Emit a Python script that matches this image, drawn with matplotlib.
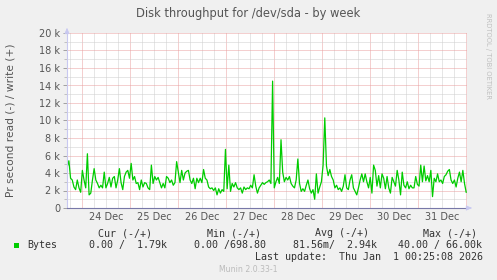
import numpy as np
import matplotlib
matplotlib.use("Agg")
import matplotlib.pyplot as plt
from matplotlib.patches import Rectangle

# ---------------- data ----------------
title = "Disk throughput for /dev/sda - by week"
ylabel = "Pr second read (-) / write (+)"
day_labels = ["24 Dec", "25 Dec", "26 Dec", "27 Dec", "28 Dec", "29 Dec", "30 Dec", "31 Dec"]
y_ticks = [0, 2000, 4000, 6000, 8000, 10000, 12000, 14000, 16000, 18000, 20000]
y_tick_labels = ["0", "2 k", "4 k", "6 k", "8 k", "10 k", "12 k", "14 k", "16 k", "18 k", "20 k"]

# write bytes/s (in thousands), Dec 23 ~16:30 -> Jan 1 00:25
write_k = [
    4.7, 5.4, 3.4, 3.2, 2.4, 2.1, 3.2, 2.3, 1.8, 4.3, 3.2, 2.3, 6.2, 1.5, 1.7, 3.2, 4.5, 3.2,
    2.8, 2.3, 2.6, 2.3, 4.1, 2.3, 2.8, 3.5, 2.4, 3.4, 3.6, 2.3, 3.2, 4.5, 2.9, 2.1, 3.6, 4.1,
    4.3, 3.4, 5.1, 3.2, 3.6, 2.8, 2.9, 2.1, 3.2, 2.4, 2.9, 2.8, 2.3, 2.1, 4.9, 2.8, 3.6, 3.2,
    3.5, 2.9, 2.3, 2.8, 2.3, 3.6, 3.4, 2.9, 3.2, 2.6, 2.9, 5.3, 4.1, 2.9, 4.3, 3.2, 4.0, 4.2,
    4.3, 3.2, 2.8, 3.4, 2.2, 3.4, 2.9, 3.4, 2.9, 4.4, 3.4, 3.2, 2.4, 2.2, 2.3, 2.0, 2.3, 1.5,
    2.2, 1.7, 2.1, 1.9, 6.7, 2.2, 4.9, 1.9, 2.8, 2.4,
    2.9, 2.3, 2.1, 2.3, 1.7, 2.4, 2.1, 2.3, 2.2, 2.6, 2.3, 3.8, 2.5, 1.7, 2.3, 2.6, 2.9, 2.7,
    2.9, 3.0, 3.2, 2.8, 14.5, 2.3, 3.0, 3.5, 2.8, 7.8, 4.1, 3.0, 3.5, 3.2, 3.6, 2.8, 2.5, 2.3,
    3.2, 5.6, 2.8, 1.9, 2.2, 1.9, 2.6, 3.2, 2.2, 1.7, 2.1, 1.0, 3.9, 1.7, 2.4, 3.0, 4.9, 10.3,
    4.8, 3.7, 4.4, 3.6, 3.2, 2.3, 2.6, 2.1, 2.3, 1.9, 2.5, 3.8, 2.3, 2.1, 3.2, 3.8, 2.3, 1.9,
    1.5, 2.3, 3.2, 3.9, 3.0, 3.9, 3.0, 2.3, 3.5, 1.7, 4.9, 4.3, 2.5, 3.7, 2.3, 3.9, 3.4, 2.2,
    3.6, 2.3, 1.7, 3.5, 3.0, 2.5, 4.3, 3.2, 1.5, 4.1, 2.6, 2.3, 3.0, 2.2, 2.6, 2.3, 2.3, 3.6,
    2.7, 2.5, 4.9, 3.0, 4.8, 3.1, 3.7, 3.0, 4.3, 1.3, 3.4, 3.0, 3.9, 3.0, 3.2, 2.8, 3.6, 3.8,
    4.2, 4.4, 3.2, 2.8, 3.2, 2.4, 3.4, 4.1, 3.0, 4.3, 2.8, 1.8,
]
t_start_h = -7.5      # hours relative to Dec 24 00:00
t_end_h = 192.0
view_start_h = -7.6
view_end_h = 192.4

legend_headers = ["Cur (-/+)", "Min (-/+)", "Avg (-/+)", "Max (-/+)"]
legend_values = ["0.00 /  1.79k", "0.00 /698.80", "81.56m/  2.94k", "40.00 / 66.00k"]
series_name = "Bytes"
last_update = "Last update:  Thu Jan  1 00:25:08 2026"
footer = "Munin 2.0.33-1"
side_text = "RRDTOOL / TOBI OETIKER"

# ---------------- figure ----------------
W, H = 497, 280
fig = plt.figure(figsize=(W / 100, H / 100), dpi=100, facecolor="#F0F0F0")
ax = fig.add_axes([67 / W, (H - 208) / H, 400 / W, 175 / H])
ax.set_facecolor("white")

def ftext(x, y, s, **kw):
    fig.text(x / W, 1 - y / H, s, **kw)

values = np.array(write_k) * 1000.0
times = np.linspace(t_start_h, t_end_h, len(values))

ax.set_xlim(view_start_h, view_end_h)
ax.set_ylim(0, 20000)

# grids
major_x = np.arange(0, 193, 24)
minor_x = np.arange(-6, 193, 6)
ax.set_xticks(major_x)
ax.set_xticks(minor_x, minor=True)
ax.set_xticklabels([])
ax.set_yticks(y_ticks)
ax.set_yticklabels(y_tick_labels)
ax.set_yticks(np.arange(1000, 20000, 2000), minor=True)

dot = (0, (1, 1))
ax.grid(which="minor", axis="both", color="#cfcfcf", linestyle=dot, linewidth=0.72)
ax.grid(which="major", axis="both", color="#eaa0a0", linestyle=dot, linewidth=0.72)
ax.set_axisbelow(True)

ax.tick_params(axis="x", which="both", length=0)
ax.tick_params(axis="y", which="major", length=3, width=0.7, color="#a0a0a0",
               labelsize=7, labelcolor="#555555", pad=2)
ax.tick_params(axis="y", which="minor", length=2, width=0.7, color="#c0c0c0")

for s in ["top", "right"]:
    ax.spines[s].set_visible(False)
ax.spines["left"].set_color("#c8c8f0")
ax.spines["left"].set_linewidth(0.8)
ax.spines["bottom"].set_color("#7878a8")
ax.spines["bottom"].set_linewidth(0.8)

# data line
ax.plot(times, values, color="#00CC00", linewidth=0.9, solid_joinstyle="round")

# axis arrows (small triangles)
ax.annotate("", xy=(1.013, 0), xytext=(1.0, 0), xycoords="axes fraction",
            arrowprops=dict(arrowstyle="-|>,head_length=0.35,head_width=0.15",
                            color="#c8c8f0", lw=0.6), annotation_clip=False)
ax.annotate("", xy=(0, 1.03), xytext=(0, 1.0), xycoords="axes fraction",
            arrowprops=dict(arrowstyle="-|>,head_length=0.35,head_width=0.15",
                            color="#c8c8f0", lw=0.6), annotation_clip=False)

# day labels at noon
trans = ax.get_xaxis_transform()
for i, lab in enumerate(day_labels):
    ax.text(12 + 24 * i, -0.05, lab, transform=trans, ha="center", va="center",
            fontsize=7, color="#555555")

# titles
ftext(248, 13.5, title, ha="center", va="center", fontsize=8.3, color="#555555")
ftext(11, 120, ylabel, ha="center", va="center", rotation=90, fontsize=7.7, color="#555555")
ftext(488, 56, side_text, ha="center", va="center", rotation=270, fontsize=4.9, color="#c0c0c0")

# legend
mono = "DejaVu Sans Mono"
hdr_x = [98, 207, 315, 423]
val_x = [89, 194, 293, 398]
for x, s in zip(hdr_x, legend_headers):
    ftext(x, 233, s, ha="left", va="center", family=mono, fontsize=7.2, color="#333333")
for x, s in zip(val_x, legend_values):
    ftext(x, 245, s, ha="left", va="center", family=mono, fontsize=7.2, color="#333333")
fig.add_artist(Rectangle((14 / W, 1 - 248 / H), 5 / W, 5 / H, transform=fig.transFigure,
                         facecolor="#00CC00", edgecolor="none"))
ftext(27, 245, series_name, ha="left", va="center", family=mono, fontsize=7.2, color="#333333")
ftext(483, 257.5, last_update, ha="right", va="center", family=mono, fontsize=7.2, color="#333333")
ftext(248, 269, footer, ha="center", va="center", fontsize=5.6, color="#bbbbbb")

fig.savefig("out.png", dpi=100, facecolor=fig.get_facecolor())
